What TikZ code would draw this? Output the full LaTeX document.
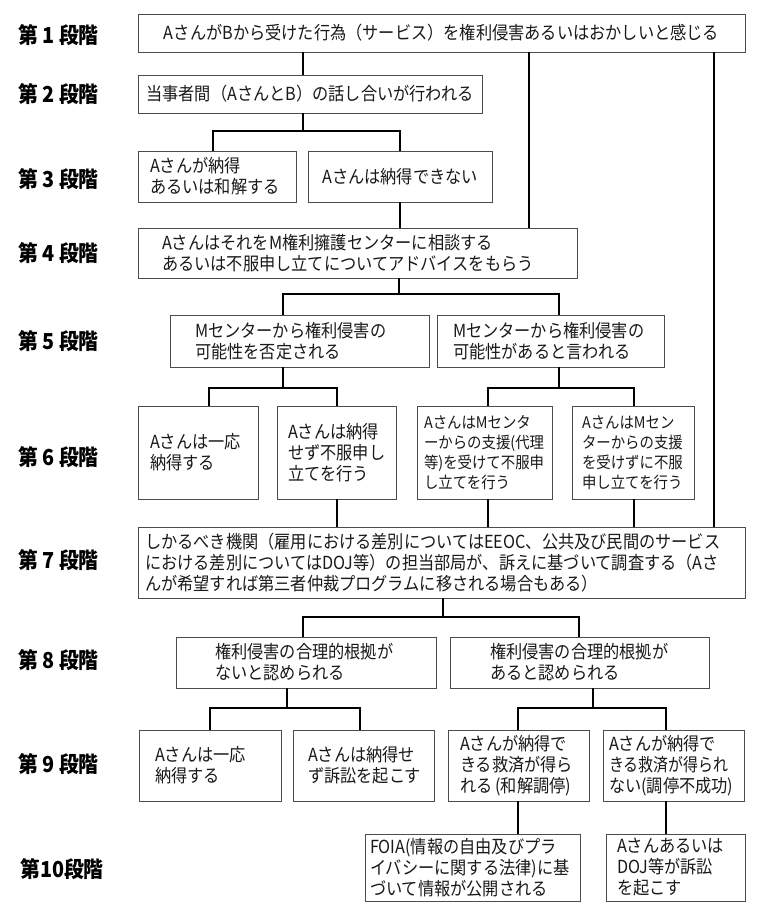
\documentclass[tikz,border=0pt]{standalone}
\usepackage{fontspec}
\setmainfont{Noto Sans CJK JP}[FakeStretch=0.9]
\usepackage{graphicx}
\newcommand\mybox[8][]{%
 \pgfmathsetmacro\mybw{#5-#3}%
 \pgfmathsetmacro\mybh{#6-#4}%
 \pgfmathsetmacro\mytw{#5-#3-2*#7}%
 \node[box,minimum width=\mybw pt,minimum height=\mybh pt,text width=\mytw pt,#1] (#2) at ({(#3+#5)/2},{(#4+#6)/2}) {#8};}
\begin{document}
\begin{tikzpicture}[x=1pt,y=-1pt,
  box/.style={draw=black!70,line width=0.9pt,inner sep=0pt,align=left,
    font=\fontsize{18}{21}\selectfont,text=black!90},
  conn/.style={draw=black,line width=1.5pt},
  stagelbl/.style={anchor=west,inner sep=0pt,font=\fontsize{22}{24}\selectfont\bfseries}]
\useasboundingbox (0,0) rectangle (760,918);
\fill[white] (0,0) rectangle (760,918);
% stage labels
\node[stagelbl] (s1) at (18,35) {第 1 段階};
\node[stagelbl] (s2) at (18,94) {第 2 段階};
\node[stagelbl] (s3) at (18,179) {第 3 段階};
\node[stagelbl] (s4) at (18,253) {第 4 段階};
\node[stagelbl] (s5) at (18,341) {第 5 段階};
\node[stagelbl] (s6) at (18,457) {第 6 段階};
\node[stagelbl] (s7) at (18,560) {第 7 段階};
\node[stagelbl] (s8) at (18,660) {第 8 段階};
\node[stagelbl] (s9) at (18,764) {第 9 段階};
\node[stagelbl] (s10) at (20,869) {第10段階};
% boxes
\mybox[align=center]{b1}{138}{14}{745}{52}{5}{AさんがBから受けた行為（サービス）を権利侵害あるいはおかしいと感じる}
\mybox[align=center]{b2}{138}{75}{482}{113}{4}{当事者間（AさんとB）の話し合いが行われる}
\mybox{b3a}{138}{151}{296}{202}{12}{Aさんが納得\\あるいは和解する}
\mybox[align=center]{b3b}{308}{151}{492}{202}{6}{Aさんは納得できない}
\mybox{b4}{138}{228}{577}{278}{24}{AさんはそれをM権利擁護センターに相談する\\あるいは不服申し立てについてアドバイスをもらう}
\mybox{b5a}{170}{315}{429}{367}{25}{Mセンターから権利侵害の\\可能性を否定される}
\mybox{b5b}{437}{315}{664}{367}{16}{Mセンターから権利侵害の\\可能性があると言われる}
\mybox{b6a}{138}{406}{258}{499}{12}{Aさんは一応\\納得する}
\mybox{b6b}{277}{406}{396}{499}{11}{Aさんは納得\\せず不服申し\\立てを行う}
\mybox[font=\fontsize{16}{20}\selectfont]{b6c}{417}{406}{552}{499}{7}{AさんはMセンタ\\ーからの支援(代理\\等)を受けて不服申\\し立てを行う}
\mybox[font=\fontsize{16}{20}\selectfont]{b6d}{572}{406}{694}{499}{10}{AさんはMセン\\ターからの支援\\を受けずに不服\\申し立てを行う}
\mybox{b7}{138}{527}{745}{598}{7}{しかるべき機関（雇用における差別についてはEEOC、公共及び民間のサービス\\における差別についてはDOJ等）の担当部局が、訴えに基づいて調査する（Aさ\\んが希望すれば第三者仲裁プログラムに移される場合もある）}
\mybox{b8a}{176}{637}{436}{688}{39}{権利侵害の合理的根拠が\\ないと認められる}
\mybox{b8b}{450}{637}{709}{688}{40}{権利侵害の合理的根拠が\\あると認められる}
\mybox{b9a}{139}{730}{281}{801}{16}{Aさんは一応\\納得する}
\mybox{b9b}{293}{730}{434}{801}{15}{Aさんは納得せ\\ず訴訟を起こす}
\mybox{b9c}{448}{730}{589}{801}{12}{Aさんが納得で\\きる救済が得ら\\れる\,(和解調停)}
\mybox{b9d}{603}{730}{744}{801}{6}{Aさんが納得で\\\scalebox{0.92}[1]{きる救済が得られ}\\ない(調停不成功)}
\mybox{b10a}{365}{834}{580}{901}{5}{FOIA(情報の自由及びプラ\\イバシーに関する法律)に基\\づいて情報が公開される}
\mybox{b10b}{606}{834}{745}{901}{11}{Aさんあるいは\\DOJ等が訴訟\\を起こす}
% drop coordinates
\coordinate (x303) at (303,0);
\coordinate (x529) at (529,0);
\coordinate (x714) at (714,0);
\coordinate (j2) at (303,131);
\coordinate (d3a) at (213,0);
\coordinate (d3b) at (400,0);
\coordinate (j4) at (399,294);
\coordinate (d5a) at (283,0);
\coordinate (d5b) at (559,0);
\coordinate (j5a) at (283,388);
\coordinate (j5b) at (559,388);
\coordinate (d6a) at (209,0);
\coordinate (d6b) at (337,0);
\coordinate (d6c) at (488,0);
\coordinate (d6d) at (634,0);
\coordinate (j7) at (443,617);
\coordinate (d8a) at (303,0);
\coordinate (d8b) at (579,0);
\coordinate (j8a) at (287,708);
\coordinate (j8b) at (593,708);
\coordinate (d9a) at (210,0);
\coordinate (d9b) at (360,0);
\coordinate (d9c) at (518,0);
\coordinate (d9d) at (666,0);
% connectors
\draw[conn] (b1.south -| x303) -- (b2.north -| x303);
\draw[conn] (b1.south -| x529) -- (b4.north -| x529);
\draw[conn] (b1.south -| x714) -- (b7.north -| x714);
\draw[conn] (b2.south -| j2) -- (j2);
\draw[conn] (b3a.north -| d3a) |- (j2) -| (b3b.north -| d3b);
\draw[conn] (b3b.south -| d3b) -- (b4.north -| d3b);
\draw[conn] (b4.south -| j4) -- (j4);
\draw[conn] (b5a.north -| d5a) |- (j4) -| (b5b.north -| d5b);
\draw[conn] (b5a.south -| j5a) -- (j5a);
\draw[conn] (b6a.north -| d6a) |- (j5a) -| (b6b.north -| d6b);
\draw[conn] (b5b.south -| j5b) -- (j5b);
\draw[conn] (b6c.north -| d6c) |- (j5b) -| (b6d.north -| d6d);
\draw[conn] (b6b.south -| d6b) -- (b7.north -| d6b);
\draw[conn] (b6c.south -| d6c) -- (b7.north -| d6c);
\draw[conn] (b6d.south -| d6d) -- (b7.north -| d6d);
\draw[conn] (b7.south -| j7) -- (j7);
\draw[conn] (b8a.north -| d8a) |- (j7) -| (b8b.north -| d8b);
\draw[conn] (b8a.south -| j8a) -- (j8a);
\draw[conn] (b9a.north -| d9a) |- (j8a) -| (b9b.north -| d9b);
\draw[conn] (b8b.south -| j8b) -- (j8b);
\draw[conn] (b9c.north -| d9c) |- (j8b) -| (b9d.north -| d9d);
\draw[conn] (b9c.south -| d9c) -- (b10a.north -| d9c);
\draw[conn] (b9d.south -| d9d) -- (b10b.north -| d9d);
\end{tikzpicture}
\end{document}
